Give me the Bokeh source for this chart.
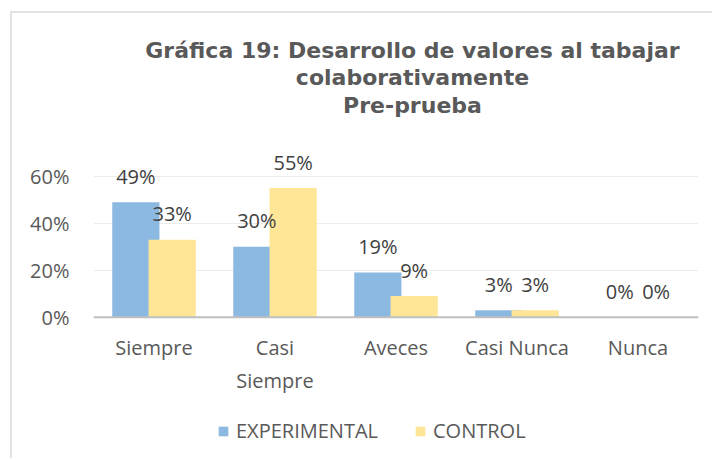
from bokeh.plotting import figure
from bokeh.models import (ColumnDataSource, Range1d, FixedTicker, NumeralTickFormatter,
                          Span, Legend, LegendItem, Label)
from bokeh.transform import dodge
from bokeh.core.properties import value
from bokeh.embed import file_html
from bokeh.resources import INLINE

# ---- data ----
categories = ["Siempre", "Casi Siempre", "Aveces", "Casi Nunca", "Nunca"]
cat_labels = ["Siempre", "Casi\nSiempre", "Aveces", "Casi Nunca", "Nunca"]
experimental = [0.49, 0.30, 0.19, 0.03, 0.00]
control = [0.33, 0.55, 0.09, 0.03, 0.00]
series_names = ["EXPERIMENTAL", "CONTROL"]
y_ticks = [0, 0.2, 0.4, 0.6]
title_lines = ["Gráfica 19: Desarrollo de valores al tabajar",
               "colaborativamente", "Pre-prueba"]

BLUE = "#8CB9E2"
YELLOW = "#FFE596"
FONT = "Open Sans"

src = ColumnDataSource(dict(
    cat=categories,
    exp=experimental,
    ctl=control,
    exp_lbl=[f"{round(v*100)}%" for v in experimental],
    ctl_lbl=[f"{round(v*100)}%" for v in control],
    zero=[0] * len(categories),
    line1=[s.split("\n")[0] for s in cat_labels],
    line2=[s.split("\n")[1] if "\n" in s else "" for s in cat_labels],
))

p = figure(x_range=categories, y_range=Range1d(-0.58, 1.225),
           frame_width=605, frame_height=424,
           min_border_left=81, min_border_right=14, min_border_top=16, min_border_bottom=5,
           output_backend="svg", toolbar_location=None, tools="")
p.styles = {"margin-left": "10px", "margin-top": "11px",
            "border-left": "2px solid #e2e2e2", "border-top": "2px solid #e2e2e2"}
p.outline_line_color = None
p.background_fill_color = "white"
p.border_fill_color = "white"
p.title = None

# title: three centred lines (pixels from the plot area's bottom-left)
title_y = [403, 376, 348]
for line, ty in zip(title_lines, title_y):
    p.add_layout(Label(x=319, y=ty, x_units="screen", y_units="screen", text=line,
                       text_align="center", text_baseline="middle",
                       text_font="DejaVu Sans", text_font_style="bold",
                       text_font_size="22px", text_color="#595959"))

# axes
p.xaxis.visible = False
p.xgrid.visible = False
p.yaxis.ticker = FixedTicker(ticks=y_ticks)
p.yaxis.formatter = NumeralTickFormatter(format="0%")
p.yaxis.axis_line_color = None
p.yaxis.major_tick_line_color = None
p.yaxis.minor_tick_line_color = None
p.yaxis.major_tick_out = 0
p.yaxis.major_tick_in = 0
p.yaxis.major_label_standoff = 24
p.yaxis.major_label_text_font = FONT
p.yaxis.major_label_text_font_size = "20px"
p.yaxis.major_label_text_color = "#595959"
p.ygrid.ticker = FixedTicker(ticks=y_ticks)
p.ygrid.grid_line_color = "#ececec"
p.ygrid.grid_line_width = 1

# bars
r_exp = p.vbar(x=dodge("cat", -0.15, range=p.x_range), top="exp", width=0.39,
               source=src, fill_color=BLUE, line_color=None)
r_ctl = p.vbar(x=dodge("cat", 0.15, range=p.x_range), top="ctl", width=0.39,
               source=src, fill_color=YELLOW, line_color=None)

# category axis line
p.add_layout(Span(location=0, dimension="width", line_color="#bfbfbf", line_width=2))

# value labels
p.text(x=dodge("cat", -0.15, range=p.x_range), y="exp", text="exp_lbl", source=src,
       text_align="center", text_baseline="middle", y_offset=-26,
       text_font=value(FONT), text_font_size="20px", text_color="#404040")
p.text(x=dodge("cat", 0.15, range=p.x_range), y="ctl", text="ctl_lbl", source=src,
       text_align="center", text_baseline="middle", y_offset=-26,
       text_font=value(FONT), text_font_size="20px", text_color="#404040")

# category labels
p.text(x="cat", y="zero", text="line1", source=src, text_align="center",
       text_baseline="middle", y_offset=30,
       text_font=value(FONT), text_font_size="20px", text_color="#595959")
p.text(x="cat", y="zero", text="line2", source=src, text_align="center",
       text_baseline="middle", y_offset=63,
       text_font=value(FONT), text_font_size="20px", text_color="#595959")

# legend
legend = Legend(items=[LegendItem(label=series_names[0], renderers=[r_exp]),
                       LegendItem(label=series_names[1], renderers=[r_ctl])],
                location=(124, 9), orientation="horizontal",
                glyph_width=12, glyph_height=12, label_standoff=7, spacing=36,
                padding=0, margin=0, border_line_color=None, background_fill_alpha=0,
                label_text_font=FONT, label_text_font_size="20px",
                label_text_color="#595959", label_height=20)
p.add_layout(legend)

open("out.html", "w").write(file_html(p, INLINE))
